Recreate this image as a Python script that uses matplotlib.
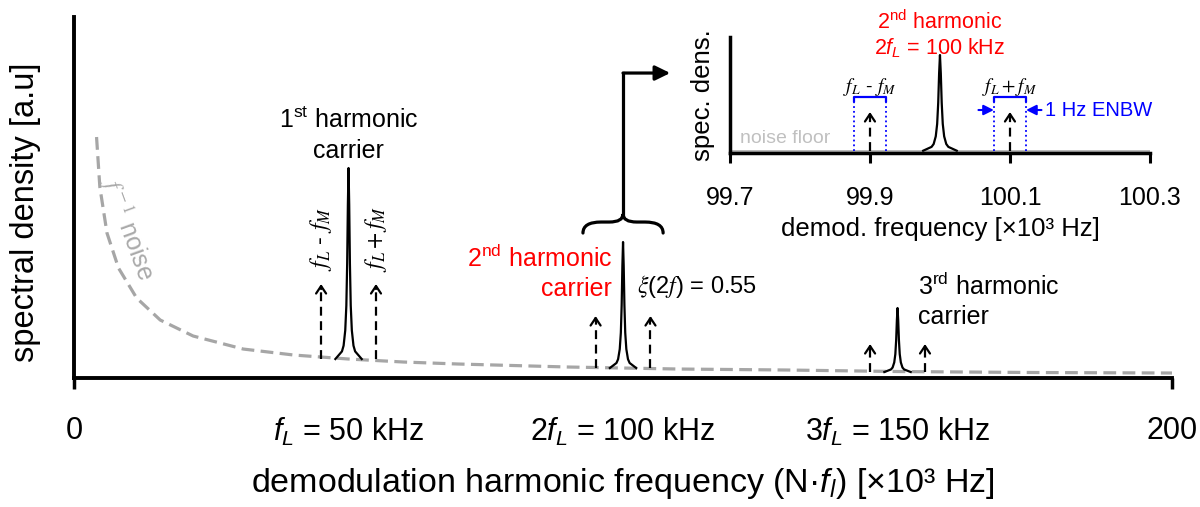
import numpy as np
import matplotlib.pyplot as plt
from matplotlib.path import Path
from matplotlib.patches import PathPatch

plt.rcParams['font.family'] = ['Liberation Sans', 'DejaVu Sans']
plt.rcParams['mathtext.fontset'] = 'custom'
plt.rcParams['mathtext.rm'] = 'Liberation Sans'
plt.rcParams['mathtext.it'] = 'Liberation Sans:italic'
plt.rcParams['mathtext.bf'] = 'Liberation Sans:bold'

# main spectrum, x in kHz, y in arbitrary units
harmonics = [50, 100, 150]
peak_base = [19, 10, 6]
peak_top = [210, 136, 70]
f_mod = 5
sideband_top = [94, 62, 34]
harmonic_labels = [r'$f_L$ = 50 kHz', r'2$f_L$ = 100 kHz', r'3$f_L$ = 150 kHz']

# 1/f noise
noise_f = [4.1, 4.7, 6.0, 8.1, 11.4, 15.7, 21.7, 30.8, 40, 50, 60, 70, 90, 110, 130, 150, 175, 200]
noise_y = [241, 191, 145, 110, 80, 58, 42, 29, 23, 19, 16, 14, 11, 9, 8, 6.5, 5.5, 5]

# line shape of one carrier peak: offset from centre (kHz), fraction of height
shape_dx = [-2.4, -1.8, -1.2, -0.9, -0.6, -0.4, -0.25, -0.12, 0, 0.12, 0.25, 0.4, 0.6, 0.9, 1.2, 1.8, 2.4]
shape_h = [0, 0.02, 0.04, 0.07, 0.15, 0.28, 0.5, 0.81, 1, 0.81, 0.5, 0.28, 0.15, 0.07, 0.04, 0.02, 0]

# zoom on 2nd harmonic, x in 10^3 Hz
zoom_center = 100.0
zoom_sidebands = [99.9, 100.1]
zoom_ticks = [99.7, 99.9, 100.1, 100.3]
zoom_floor = 2.3
zoom_peak = 98
zoom_arrow_top = 41
enbw_half = 0.023
enbw_top = 56

fig = plt.figure(figsize=(12, 5.07), dpi=100)
ax = fig.add_axes([0.0617, 0.2544, 0.915, 0.712])
ax.set_xlim(0, 200)
ax.set_ylim(0, 361)

ax.plot(noise_f, noise_y, color='#a6a6a6', lw=2.3, ls=(0, (4, 2)))


def chevron(a, x, y, size=12):
    a.annotate('', xy=(x, y), xytext=(x, y - 5),
               arrowprops=dict(arrowstyle='->,head_length=0.45,head_width=0.3', lw=1.6,
                               color='k', shrinkA=0, shrinkB=0, mutation_scale=size))


for c, b, t, st in zip(harmonics, peak_base, peak_top, sideband_top):
    ax.plot(c + np.array(shape_dx), b + (t - b) * np.array(shape_h), color='k', lw=1.6)
    for s in (-f_mod, f_mod):
        ax.plot([c + s, c + s], [b, st - 2], color='k', lw=1.6, ls=(0, (4, 2.5)))
        chevron(ax, c + s, st)

# labels of the main panel
ax.text(harmonics[0], 243, '1$^{\\rm st}$ harmonic\ncarrier', ha='center', va='center', fontsize=18,
        linespacing=1.3)
ax.text(harmonics[1] - 2.0, 105, '2$^{\\rm nd}$ harmonic\ncarrier', ha='right', va='center', fontsize=18,
        color='red', multialignment='right', linespacing=1.3)
ax.text(harmonics[2] + 3.7, 77, '3$^{\\rm rd}$ harmonic\ncarrier', ha='left', va='center', fontsize=18,
        multialignment='left', linespacing=1.3)
ax.text(harmonics[1] + 2.6, 92, r'$\xi$(2$f$) = 0.55', ha='left', va='center', fontsize=17,
        math_fontfamily='stix')
ax.text(harmonics[0] - f_mod, 139, r'$f_L$ - $f_M$', rotation=90, ha='center', va='center',
        fontsize=17, math_fontfamily='stix')
ax.text(harmonics[0] + f_mod, 139, r'$f_L + f_M$', rotation=90, ha='center', va='center',
        fontsize=17, math_fontfamily='stix')
ax.text(9.8, 150, r'$f^{\rm -1}$ noise', rotation=-70, rotation_mode='anchor', ha='center',
        va='center', fontsize=18, color='#aaaaaa', math_fontfamily='stix')

# brace over the 2nd harmonic and the arrow to the zoom
bc = harmonics[1]
bw = 7.3
y_tip = peak_top[1] + 9
y_arm = peak_top[1] + 20
y_cusp = peak_top[1] + 28
verts = [(bc - bw, y_tip), (bc - bw, y_arm), (bc - bw + 3.3, y_arm), (bc - 2.5, y_arm),
         (bc, y_arm), (bc, y_cusp), (bc, y_arm), (bc + 2.5, y_arm), (bc + bw - 3.3, y_arm),
         (bc + bw, y_arm), (bc + bw, y_tip)]
codes = [Path.MOVETO, Path.CURVE3, Path.CURVE3, Path.LINETO, Path.CURVE3, Path.CURVE3,
         Path.CURVE3, Path.CURVE3, Path.LINETO, Path.CURVE3, Path.CURVE3]
ax.add_patch(PathPatch(Path(verts, codes), fill=False, lw=2.3, color='k', capstyle='round'))
y_arrow = 305
ax.plot([bc, bc], [y_cusp, y_arrow], color='k', lw=2.3, solid_capstyle='projecting')
ax.annotate('', xy=(bc + 8.6, y_arrow), xytext=(bc, y_arrow),
            arrowprops=dict(arrowstyle='-|>,head_length=0.45,head_width=0.22', lw=2.3, color='k',
                            shrinkA=0, shrinkB=0, mutation_scale=20))

for side in ['top', 'right']:
    ax.spines[side].set_visible(False)
for side in ['left', 'bottom']:
    ax.spines[side].set_linewidth(2.8)
ax.set_yticks([])
ax.set_xticks([0, 200])
ax.set_xticklabels(['0', '200'])
ax.set_xticks(harmonics, minor=True)
ax.set_xticklabels(harmonic_labels, minor=True)
ax.tick_params(axis='x', which='major', length=8, width=2.5, pad=19, labelsize=22)
ax.tick_params(axis='x', which='minor', length=0, pad=27, labelsize=22)
ax.set_xlabel('demodulation harmonic frequency (N·$f_l$) [×10³ Hz]', fontsize=24.5)
ax.xaxis.set_label_coords(0.5, -0.243)
ax.set_ylabel('spectral density [a.u]', fontsize=23.5)
ax.yaxis.set_label_coords(-0.030, 0.46)

# zoomed panel
ax_in = fig.add_axes([0.6083, 0.6982, 0.35, 0.2288])
ax_in.set_xlim(99.7, 100.3)
ax_in.set_ylim(0, 116)
ax_in.axhline(zoom_floor, color='#b3b3b3', lw=2)
ax_in.plot(zoom_center + 0.01 * np.array(shape_dx),
           zoom_floor + (zoom_peak - zoom_floor) * np.array(shape_h), color='k', lw=1.6)
for i, s in enumerate(zoom_sidebands):
    ax_in.plot([s, s], [zoom_floor, zoom_arrow_top - 2], color='k', lw=1.6, ls=(0, (4, 2.5)))
    chevron(ax_in, s, zoom_arrow_top)
    for e in (-enbw_half, enbw_half):
        ax_in.plot([s + e, s + e], [zoom_floor, enbw_top], color='blue', lw=1.3, ls=':')
    ax_in.plot([s - enbw_half, s - enbw_half, s + enbw_half, s + enbw_half],
               [enbw_top - 4, enbw_top, enbw_top, enbw_top - 4], color='blue', lw=1.6)
ax_in.text(zoom_sidebands[0], 66, r'$f_L$ - $f_M$', ha='center', va='center', fontsize=14,
           math_fontfamily='stix')
ax_in.text(zoom_sidebands[1], 66, r'$f_L + f_M$', ha='center', va='center', fontsize=14,
           math_fontfamily='stix')
s = zoom_sidebands[1]
ax_in.annotate('', xy=(s - enbw_half, 43), xytext=(s - enbw_half - 0.022, 43),
               arrowprops=dict(arrowstyle='-|>,head_length=0.5,head_width=0.25', lw=1.5,
                               color='blue', shrinkA=0, shrinkB=0, mutation_scale=12))
ax_in.annotate('', xy=(s + enbw_half, 43), xytext=(s + enbw_half + 0.022, 43),
               arrowprops=dict(arrowstyle='-|>,head_length=0.5,head_width=0.25', lw=1.5,
                               color='blue', shrinkA=0, shrinkB=0, mutation_scale=12))
ax_in.text(s + enbw_half + 0.027, 43, '1 Hz ENBW', color='blue', ha='left', va='center', fontsize=14.5)
ax_in.text(99.714, 15, 'noise floor', color='#c0c0c0', ha='left', va='center', fontsize=14)
ax_in.text(zoom_center, 118, '2$^{\\rm nd}$ harmonic\n2$f_L$ = 100 kHz', color='red', ha='center',
           va='center', fontsize=15.5, linespacing=1.1)

for side in ['top', 'right']:
    ax_in.spines[side].set_visible(False)
for side in ['left', 'bottom']:
    ax_in.spines[side].set_linewidth(2.5)
ax_in.set_yticks([])
ax_in.set_xticks(zoom_ticks)
ax_in.set_xticklabels(['99.7', '99.9', '100.1', '100.3'])
ax_in.tick_params(axis='x', length=7, width=2.2, pad=17, labelsize=18)
ax_in.set_xlabel('demod. frequency [×10³ Hz]', fontsize=18.5)
ax_in.xaxis.set_label_coords(0.5, -0.55)
ax_in.set_ylabel('spec. dens.', fontsize=18.5)
ax_in.yaxis.set_label_coords(-0.036, 0.5)

fig.savefig('out.png', dpi=100)
